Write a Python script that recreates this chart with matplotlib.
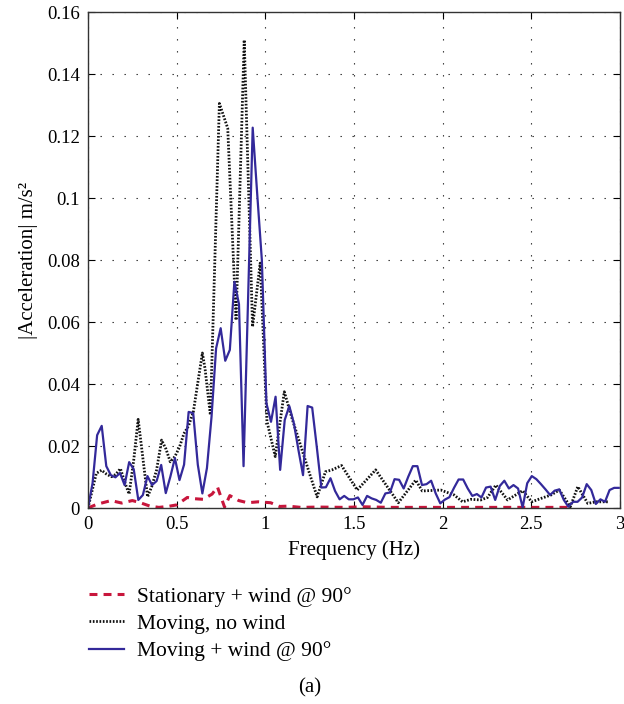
import numpy as np
import matplotlib
matplotlib.use("Agg")
import matplotlib.pyplot as plt

plt.rcParams['font.family'] = ['Liberation Serif', 'DejaVu Serif']

# Frequency bin spacing of the FFT used for the "Moving + wind" record
df = 0.0258

moving_wind = [
    0.0, 0.008, 0.0235, 0.0265, 0.0135, 0.0106, 0.0099, 0.0113, 0.0074, 0.0148,
    0.0125, 0.0026, 0.0042, 0.0103, 0.0074, 0.0087, 0.0139, 0.0048, 0.0101, 0.0161,
    0.009, 0.014, 0.031, 0.0306, 0.014, 0.0047, 0.0129, 0.0294, 0.0515, 0.058,
    0.0475, 0.051, 0.073, 0.0658, 0.0135, 0.068, 0.1227, 0.101, 0.08, 0.0338,
    0.0278, 0.0359, 0.0123, 0.0284, 0.0329, 0.0273, 0.0187, 0.0106, 0.0329, 0.0324,
    0.0198, 0.0066, 0.0067, 0.0096, 0.0055, 0.0028, 0.0039, 0.0028, 0.0028, 0.0034,
    0.001, 0.0039, 0.0031, 0.0026, 0.0017, 0.0047, 0.0050, 0.0093, 0.0091, 0.0063,
    0.0101, 0.0135, 0.0135, 0.0074, 0.0077, 0.0088, 0.0047, 0.0015, 0.0027, 0.0035,
    0.0065, 0.0092, 0.0092, 0.0063, 0.0039, 0.0045, 0.0034, 0.0066, 0.0069, 0.0026,
    0.0071, 0.0088, 0.0063, 0.0074, 0.0063, 0.0002, 0.008, 0.0103, 0.0093, 0.0077,
    0.006, 0.0042, 0.0056, 0.006, 0.0026, 0.0004, 0.002, 0.002, 0.0034, 0.0077,
    0.0058, 0.0013, 0.0028, 0.002, 0.0058, 0.0065, 0.0065,
]
freq_moving_wind = np.arange(len(moving_wind)) * df

freq_no_wind = [
    0.0, 0.047, 0.077, 0.103, 0.132, 0.156, 0.183, 0.211, 0.232, 0.258,
    0.283, 0.336, 0.36, 0.387, 0.415, 0.44, 0.464, 0.49, 0.515, 0.541,
    0.567, 0.594, 0.645, 0.66, 0.69, 0.741, 0.788, 0.835, 0.881, 0.928,
    0.971, 1.009, 1.056, 1.107, 1.15, 1.2, 1.25, 1.292, 1.339, 1.376,
    1.43, 1.518, 1.622, 1.75, 1.848, 1.885, 1.989, 2.065, 2.112, 2.159,
    2.215, 2.253, 2.3, 2.366, 2.451, 2.502, 2.555, 2.611, 2.658, 2.72,
    2.762, 2.818, 2.866, 2.94,
]
moving_no_wind = [
    0.0, 0.0112, 0.0122, 0.011, 0.0101, 0.0108, 0.0127, 0.0077, 0.0045, 0.0155,
    0.0286, 0.0036, 0.007, 0.0123, 0.0219, 0.019, 0.0149, 0.0166, 0.0195, 0.024,
    0.0265, 0.031, 0.050, 0.045, 0.030, 0.1305, 0.1225, 0.0606, 0.151, 0.0585,
    0.079, 0.028, 0.0166, 0.0375, 0.029, 0.020, 0.011, 0.0036, 0.0117, 0.0123,
    0.0137, 0.0058, 0.0123, 0.0017, 0.009, 0.0055, 0.0058, 0.0042, 0.002, 0.0028,
    0.0026, 0.0034, 0.0074, 0.0026, 0.0056, 0.002, 0.0031, 0.0042, 0.0058, 0.0004,
    0.0069, 0.0015, 0.002, 0.002,
]

freq_stationary = [
    0.0, 0.05, 0.13, 0.19, 0.25, 0.29, 0.35, 0.40, 0.45, 0.50,
    0.56, 0.60, 0.65, 0.70, 0.73, 0.77, 0.80, 0.85, 0.90, 0.96,
    1.03, 1.08, 1.13, 1.2, 1.3, 1.45, 1.55, 1.7, 2.0, 2.3,
    2.5, 2.72,
]
stationary_wind = [
    0.0, 0.0012, 0.0024, 0.0016, 0.0024, 0.0018, 0.0006, 0.0002, 0.0005, 0.001,
    0.0034, 0.003, 0.0028, 0.0045, 0.0068, 0.0003, 0.004, 0.0024, 0.0017, 0.002,
    0.0017, 0.0005, 0.0006, 0.0002, 0.0003, 0.0002, 0.0004, 0.0002, 0.0002, 0.0002,
    0.0002, 0.0002,
]

labels = ["Stationary + wind @ 90°", "Moving, no wind", "Moving + wind @ 90°"]
x_ticks = [0, 0.5, 1, 1.5, 2, 2.5, 3]
x_tick_labels = ["0", "0.5", "1", "1.5", "2", "2.5", "3"]
y_ticks = [0, 0.02, 0.04, 0.06, 0.08, 0.1, 0.12, 0.14, 0.16]
y_tick_labels = ["0", "0.02", "0.04", "0.06", "0.08", "0.1", "0.12", "0.14", "0.16"]

RED = "#c8163c"
BLUE = "#33299a"

fig = plt.figure(figsize=(6.24, 7.04), dpi=100)
ax = fig.add_axes([0.141, 0.2784, 0.8526, 0.7045])

l1, = ax.plot(freq_stationary, stationary_wind, color=RED, lw=2.2,
              linestyle=(0, (2.6, 2.0)), label=labels[0])
l2, = ax.plot(freq_no_wind, moving_no_wind, color="#111111", lw=2.0,
              linestyle=(0, (0.6, 0.6)), label=labels[1])
l3, = ax.plot(freq_moving_wind, moving_wind, color=BLUE, lw=1.6,
              label=labels[2])

ax.set_xlim(0, 3)
ax.set_ylim(0, 0.16)
ax.set_xticks(x_ticks)
ax.set_xticklabels(x_tick_labels)
ax.set_yticks(y_ticks)
ax.set_yticklabels(y_tick_labels)
ax.tick_params(direction="in", length=5, width=0.8, labelsize=13.5,
               top=True, right=True, pad=6)
ax.grid(True, color="#222222", linestyle=(0, (1.2, 9.6)), linewidth=0.8)
for s in ax.spines.values():
    s.set_linewidth(1.0)
    s.set_color("#333333")

ax.set_xlabel("Frequency (Hz)", fontsize=15, labelpad=5)
ax.set_ylabel("|Acceleration| m/s²", fontsize=15, labelpad=6)

fig.legend(handles=[l1, l2, l3], loc="upper left",
           bbox_to_anchor=(0.142, 0.167), frameon=False, fontsize=15.5,
           handlelength=1.65, handletextpad=0.6, labelspacing=0.34,
           borderpad=0, borderaxespad=0)

fig.text(0.497, 0.023, "(a)", fontsize=15, ha="center", va="center")

fig.savefig("out.png", dpi=100)
